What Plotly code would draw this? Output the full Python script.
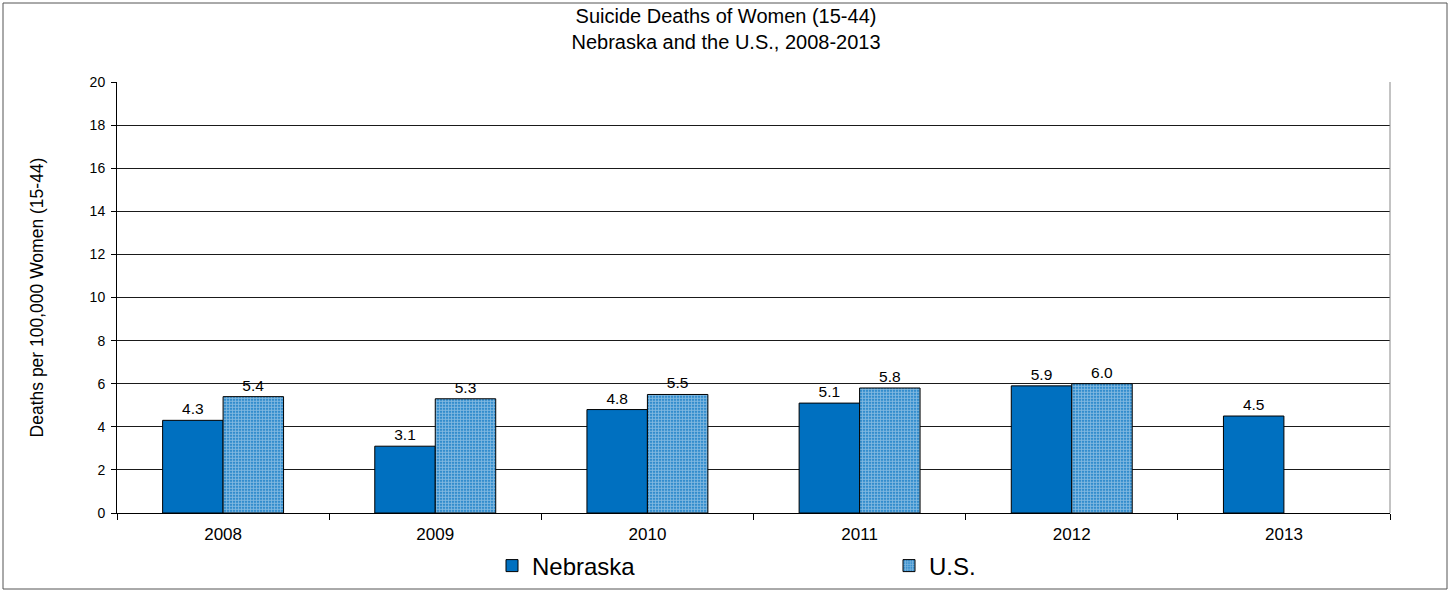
import plotly.graph_objects as go

years = ["2008", "2009", "2010", "2011", "2012", "2013"]
nebraska = [4.3, 3.1, 4.8, 5.1, 5.9, 4.5]
us = [5.4, 5.3, 5.5, 5.8, 6.0, None]
neb_labels = ["4.3", "3.1", "4.8", "5.1", "5.9", "4.5"]
us_labels = ["5.4", "5.3", "5.5", "5.8", "6.0", ""]

W, H = 1452, 592
ml, mt = 117, 82
mr = W - 1390
mb = H - 513
pw, ph = W - ml - mr, H - mt - mb

def px_x(p):  # screen px -> paper fraction
    return (p - ml) / pw

def px_y(p):
    return (H - mb - p) / ph

BLUE = "#0070C0"

fig = go.Figure()
fig.add_trace(go.Bar(
    x=years, y=nebraska, name="Nebraska", text=neb_labels,
    textposition="outside", textfont=dict(size=15.5, color="#000"),
    marker=dict(color=BLUE, line=dict(color="#000", width=1)),
    cliponaxis=False,
))
fig.add_trace(go.Bar(
    x=years, y=us, name="U.S.", text=us_labels,
    textposition="outside", textfont=dict(size=15.5, color="#000"),
    marker=dict(color=BLUE, line=dict(color="#000", width=1),
                pattern=dict(shape=".", fgcolor="#ffffff", bgcolor=BLUE,
                             size=3, solidity=0.7)),
    cliponaxis=False,
))

fig.update_layout(
    width=W, height=H,
    margin=dict(l=ml, r=mr, t=mt, b=mb, autoexpand=False),
    paper_bgcolor="white", plot_bgcolor="white",
    font=dict(family="Liberation Sans, Arial", color="#000"),
    barmode="group", bargap=0.43, bargroupgap=0,
    title=dict(text="Suicide Deaths of Women (15-44)<br>Nebraska and the U.S., 2008-2013",
               x=0.5, xref="container", y=1 - 23 / H, yanchor="middle",
               font=dict(size=20, color="#000")),
    xaxis=dict(showline=True, linecolor="#000", linewidth=1,
               ticks="outside", tickson="boundaries", ticklen=6, tickcolor="#000",
               tickfont=dict(size=17), ticklabelstandoff=6, showgrid=False, mirror=False),
    yaxis=dict(range=[0, 20], dtick=2, showline=True, linecolor="#000", linewidth=1,
               ticks="outside", ticklen=5, tickcolor="#000", tickfont=dict(size=14),
               ticklabelstandoff=3,
               showgrid=True, gridcolor="#1a1a1a", gridwidth=1,
               title=dict(text="Deaths per 100,000 Women (15-44)", font=dict(size=17.5),
                          standoff=41)),
    legend=dict(orientation="h", x=px_x(492), xanchor="left",
                y=px_y(566), yanchor="middle",
                font=dict(size=24), entrywidth=352, itemwidth=30, traceorder="normal",
                bgcolor="rgba(0,0,0,0)"),
    shapes=[
        dict(type="rect", xref="paper", yref="paper",
             x0=px_x(3), x1=px_x(1447), y0=px_y(589), y1=px_y(3),
             line=dict(color="#555", width=1), fillcolor="rgba(0,0,0,0)", layer="below"),
        dict(type="line", xref="paper", yref="paper", x0=1, x1=1, y0=0, y1=1,
             line=dict(color="#888", width=1)),
    ],
)

fig.write_html("out.html", config={"displayModeBar": False},
               post_script="document.body.style.margin='0';document.body.style.overflow='hidden';")
